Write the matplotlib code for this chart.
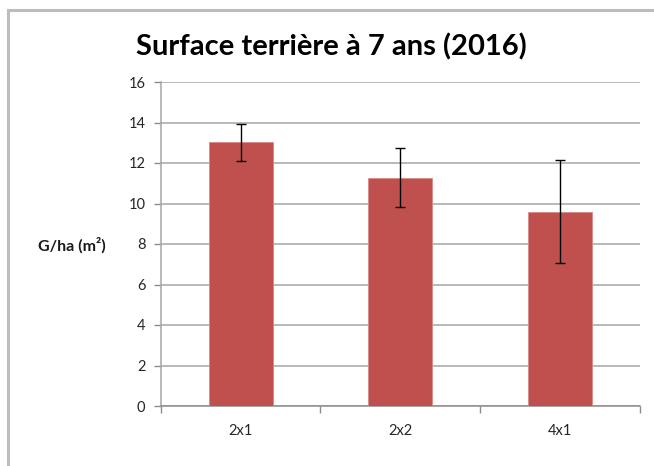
import matplotlib.pyplot as plt
from matplotlib.patches import Rectangle

categories = ["2x1", "2x2", "4x1"]
values = [13.02, 11.28, 9.6]
errors = [0.9, 1.45, 2.54]
y_ticks = [0, 2, 4, 6, 8, 10, 12, 14, 16]

fig = plt.figure(figsize=(6.54, 4.66), dpi=100)

# outer grey frame (cut by the right/bottom edge like in the screenshot)
fig.patches.append(Rectangle((8 / 654, -0.05), 1.0, 1 - 10 / 466 + 0.05,
                             transform=fig.transFigure, fill=False,
                             edgecolor="#BDBDBD", linewidth=2.2))

ax = fig.add_axes([160.7 / 654, 1 - 406 / 466, (640 - 160.7) / 654, (406 - 82) / 466])

x = range(len(categories))
ax.bar(x, values, width=0.4, color="#C0504D", edgecolor="#D98A88", linewidth=0.6, zorder=3)
ax.errorbar(x, values, yerr=errors, fmt="none", ecolor="black", elinewidth=1,
            capsize=3.5, capthick=1, zorder=4)

ax.set_xlim(-0.5, 2.5)
ax.set_ylim(0, 16)
ax.set_yticks(y_ticks)
ax.set_xticks([0, 1, 2])
ax.set_xticklabels(categories, fontsize=10.5, color="#262626", family="Lato")
ax.tick_params(axis="x", length=0, pad=13)
ax.set_xticks([-0.5, 0.5, 1.5, 2.5], minor=True)
ax.tick_params(axis="x", which="minor", length=5, color="#8C8C8C", width=1)
ax.tick_params(axis="y", length=5, color="#8C8C8C", width=1, labelsize=10.5,
               labelcolor="#262626", pad=6)
for lab in ax.get_yticklabels():
    lab.set_family("Lato")

ax.yaxis.grid(True, color="#A6A6A6", linewidth=1.1, zorder=0)
ax.set_axisbelow(True)
for s in ["top", "right"]:
    ax.spines[s].set_visible(False)
ax.spines["left"].set_color("#A6A6A6")
ax.spines["bottom"].set_color("#8C8C8C")
ax.spines["left"].set_linewidth(1.1)
ax.spines["bottom"].set_linewidth(1.1)

fig.text(72 / 654, 1 - 245 / 466, "G/ha (m²)", ha="center", va="center",
         fontsize=11.5, fontweight="bold", family="Lato", color="#1a1a1a")
fig.text(331 / 654, 1 - 47 / 466, "Surface terrière à 7 ans (2016)", ha="center",
         va="center", fontsize=21, fontweight="bold", family="Lato", color="black")

fig.savefig("out.png", dpi=100)
